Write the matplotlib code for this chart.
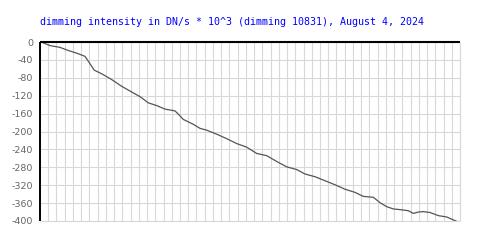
import numpy as np
import matplotlib.pyplot as plt

plt.rcParams['axes.unicode_minus'] = False

# dimming curve, x in grid columns (51 columns across the plot), y in DN/s * 10^3
x_vals = [0.40, 1.21, 2.43, 3.44, 4.46, 5.46, 5.87, 6.59, 7.49, 8.71, 9.92,
          11.54, 12.14, 13.15, 14.17, 15.18, 16.39, 16.79, 17.40, 18.62, 19.43,
          20.24, 21.46, 22.67, 23.89, 25.10, 26.31, 27.53, 28.74, 29.96, 31.17,
          32.18, 33.39, 34.61, 35.82, 37.04, 38.25, 39.26, 40.47, 41.29, 42.10,
          42.90, 43.92, 44.72, 45.33, 45.94, 46.55, 47.36, 48.37, 49.39, 49.99,
          50.52]
y_vals = [-2, -8, -12, -19, -25, -32, -43, -63, -71, -84, -99,
          -116, -122, -136, -142, -150, -154, -161, -173, -184, -193,
          -197, -206, -216, -227, -235, -249, -254, -267, -279, -285,
          -295, -301, -310, -319, -329, -336, -345, -347, -359, -368,
          -373, -375, -377, -383, -380, -379, -381, -388, -391, -396,
          -400]
y_ticks = list(range(0, -401, -40))
n_cols = 51

title = "dimming intensity in DN/s * 10^3 (dimming 10831), August 4, 2024"

fig = plt.figure(figsize=(5, 2.5), dpi=100)
ax = fig.add_axes([0.08, 0.116, 0.84, 0.716])

grid_c = '#d8d8d8'
ax.set_xlim(0, n_cols)
ax.set_ylim(-400, 0)
ax.set_xticks(np.arange(0, n_cols + 1))
ax.set_xticklabels([])
ax.set_yticks(y_ticks)
ax.set_yticklabels([str(t) for t in y_ticks])
ax.tick_params(length=0, labelsize=6.8, labelcolor='#666666', pad=5)
ax.grid(True, color=grid_c, linewidth=0.8)
ax.set_axisbelow(True)

for s in ['bottom', 'right']:
    ax.spines[s].set_color(grid_c)
    ax.spines[s].set_linewidth(0.8)
ax.spines['top'].set_color('black')
ax.spines['top'].set_linewidth(1.5)
ax.spines['left'].set_color('black')
ax.spines['left'].set_linewidth(1.4)
for s in ax.spines.values():
    s.set_capstyle('butt')

ax.plot(x_vals, y_vals, color='#555555', linewidth=0.9)

fig.text(0.08, 0.912, title, color='#0000ff', family='DejaVu Sans Mono',
         fontsize=7.2, ha='left', va='center')

fig.savefig('out.png', dpi=100, facecolor='white')
